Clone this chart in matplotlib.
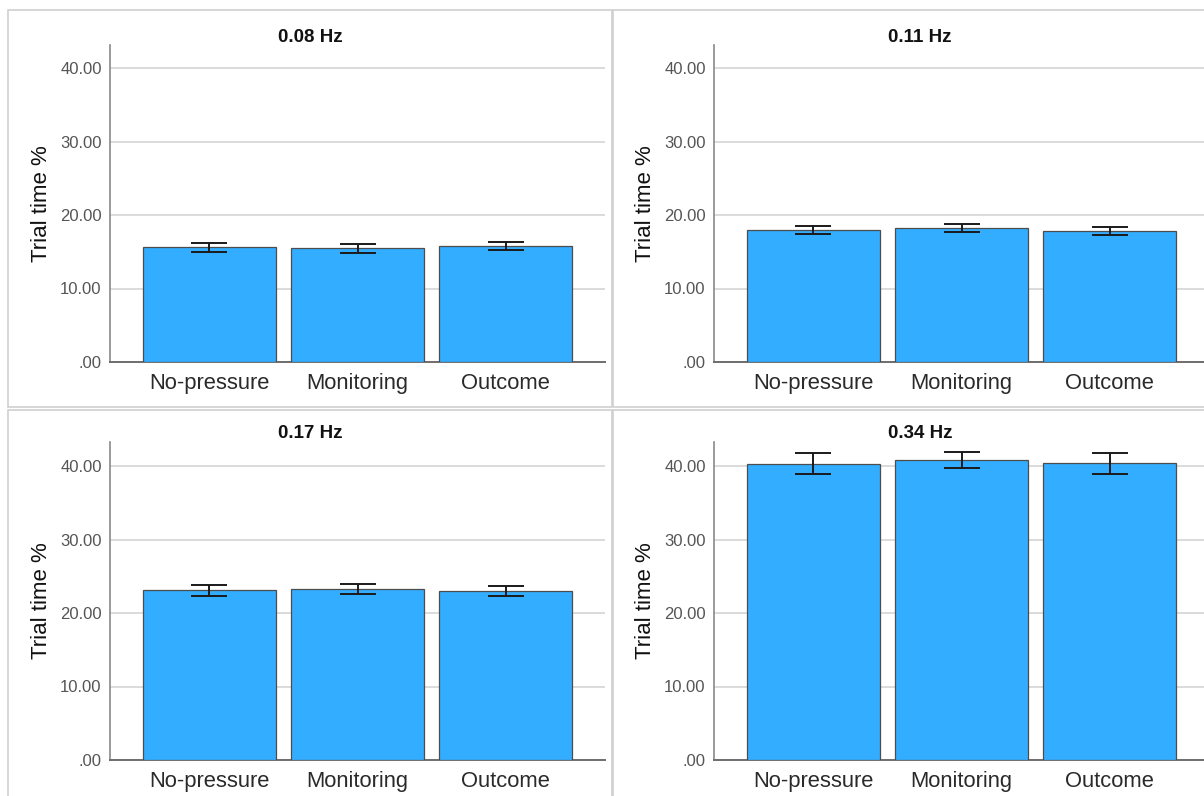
import matplotlib
matplotlib.use("Agg")
import matplotlib.pyplot as plt
from matplotlib.patches import Rectangle

plt.rcParams['font.family'] = ['Liberation Sans', 'DejaVu Sans']

categories = ["No-pressure", "Monitoring", "Outcome"]
titles = ["0.08 Hz", "0.11 Hz", "0.17 Hz", "0.34 Hz"]
means_008 = [15.6, 15.47, 15.78]
err_008 = [0.57, 0.6, 0.6]
means_011 = [17.95, 18.2, 17.8]
err_011 = [0.56, 0.55, 0.56]
means_017 = [23.1, 23.3, 23.0]
err_017 = [0.72, 0.7, 0.7]
means_034 = [40.3, 40.8, 40.35]
err_034 = [1.43, 1.1, 1.4]
yticks = [0, 10, 20, 30, 40]
ytick_labels = [".00", "10.00", "20.00", "30.00", "40.00"]

all_means = [means_008, means_011, means_017, means_034]
all_errs = [err_008, err_011, err_017, err_034]

W, H = 1204, 796
fig = plt.figure(figsize=(W / 100, H / 100), dpi=100)
fig.patch.set_facecolor("white")

# panel frames (pixel coords: x0, y0_top, x1, y1_bottom)
frames = [(8, 10, 612, 407), (613, 10, 1215, 407), (8, 410, 612, 805), (613, 410, 1215, 805)]
for (x0, y0, x1, y1) in frames:
    fig.add_artist(Rectangle((x0 / W, 1 - y1 / H), (x1 - x0) / W, (y1 - y0) / H,
                             transform=fig.transFigure, fill=False,
                             edgecolor="#cfcfcf", linewidth=1.2))

# axes positions: (left px, top px, bottom px)
axes_px = [(110, 45, 362), (714, 45, 362), (110, 442, 760), (714, 442, 760)]
axw = 495
title_x = [310, 920, 310, 920]
title_y = [37, 37, 434, 434]

for i, (lx, ty, by) in enumerate(axes_px):
    ax = fig.add_axes([lx / W, 1 - by / H, axw / W, (by - ty) / H])
    x = list(range(len(categories)))
    ax.bar(x, all_means[i], width=0.9, color="#33adff", edgecolor="#4d4d4d",
           linewidth=0.9, zorder=3)
    ax.errorbar(x, all_means[i], yerr=all_errs[i], fmt="none", ecolor="#1a1a1a",
                elinewidth=1.4, capsize=13, capthick=1.4, zorder=4)
    ylim_top = (by - ty) / 7.35
    ax.set_ylim(0, ylim_top)
    ax.set_xlim(-0.67, 2.67)
    ax.set_yticks(yticks)
    ax.set_yticklabels(ytick_labels)
    ax.set_xticks(x)
    ax.set_xticklabels(categories)
    ax.tick_params(axis="y", length=0, pad=6, labelsize=12, labelcolor="#555555")
    ax.tick_params(axis="x", length=0, pad=8, labelsize=15.8, labelcolor="#2a2a2a")
    ax.grid(axis="y", color="#d4d4d4", linewidth=1.2, zorder=0)
    ax.set_axisbelow(True)
    for s in ["top", "right"]:
        ax.spines[s].set_visible(False)
    ax.spines["left"].set_color("#8a8a8a")
    ax.spines["left"].set_linewidth(1.2)
    ax.spines["bottom"].set_color("#6e6e6e")
    ax.spines["bottom"].set_linewidth(1.4)
    ax.set_ylabel("Trial time %", fontsize=16, color="#111111", labelpad=6)
    ax.set_facecolor("none")
    fig.text(title_x[i] / W, 1 - title_y[i] / H, titles[i], ha="center", va="center",
             fontsize=13.5, fontweight="bold", color="#111111")

fig.savefig("out.png", dpi=100)
